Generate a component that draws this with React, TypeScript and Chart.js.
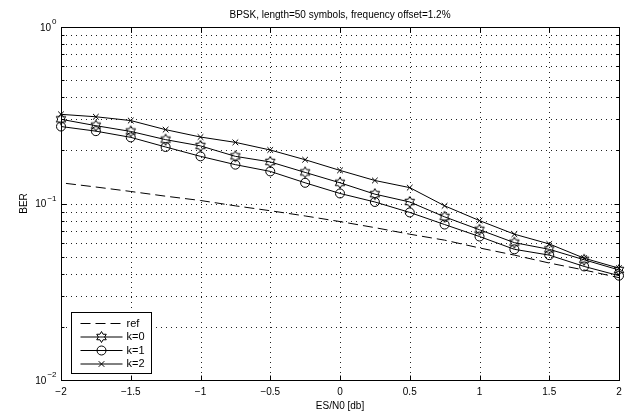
import React, { useEffect, useRef } from "react";
import { Chart, registerables } from "chart.js";

Chart.register(...registerables);

const esN0 = [-2, -1.75, -1.5, -1.25, -1, -0.75, -0.5, -0.25, 0, 0.25, 0.5, 0.75, 1, 1.25, 1.5, 1.75, 2];
const berRef = [0.131, 0.124, 0.117, 0.11, 0.104, 0.097, 0.091, 0.085, 0.079, 0.073, 0.067, 0.062, 0.056, 0.051, 0.046, 0.042, 0.038];
const berK0 = [0.3, 0.276, 0.256, 0.23, 0.212, 0.185, 0.172, 0.15, 0.131, 0.113, 0.102, 0.084, 0.071, 0.06, 0.055, 0.048, 0.042];
const berK1 = [0.273, 0.257, 0.237, 0.209, 0.185, 0.166, 0.152, 0.131, 0.114, 0.102, 0.089, 0.076, 0.065, 0.055, 0.051, 0.044, 0.039];
const berK2 = [0.32, 0.31, 0.295, 0.262, 0.238, 0.222, 0.201, 0.177, 0.154, 0.135, 0.123, 0.097, 0.08, 0.067, 0.059, 0.049, 0.043];

const seriesLabels = ["ref", "k=0", "k=1", "k=2"];
const xTicks = [-2, -1.5, -1, -0.5, 0, 0.5, 1, 1.5, 2];
const xTickLabels = ["\u22122", "\u22121.5", "\u22121", "\u22120.5", "0", "0.5", "1", "1.5", "2"];
const yDecades = [0.01, 0.1, 1];
const yTickExponents = ["\u22122", "\u22121", "0"];
const titleText = "BPSK, length=50 symbols, frequency offset=1.2%";
const xTitle = "ES/N0 [db]";
const yTitle = "BER";

const FONT = "'Liberation Sans', Arial, Helvetica, sans-serif";
const DASH = [10, 5];

function hexPath(ctx: CanvasRenderingContext2D, cx: number, cy: number, R: number) {
  const r = R / Math.sqrt(3);
  ctx.beginPath();
  for (let i = 0; i < 12; i++) {
    const ang = -Math.PI / 2 + (i * Math.PI) / 6;
    const rr = i % 2 === 0 ? R : r;
    const px = cx + rr * Math.cos(ang);
    const py = cy + rr * Math.sin(ang);
    if (i === 0) ctx.moveTo(px, py);
    else ctx.lineTo(px, py);
  }
  ctx.closePath();
}

function makeHexImage(): HTMLCanvasElement {
  const c = document.createElement("canvas");
  c.width = 14;
  c.height = 14;
  const g = c.getContext("2d")!;
  g.strokeStyle = "#000";
  g.lineWidth = 1;
  hexPath(g, 7, 7, 5.5);
  g.stroke();
  return c;
}

const axesPlugin = {
  id: "matlabAxes",
  beforeDatasetsDraw(chart: any) {
    const { ctx, chartArea: a, scales } = chart;
    const x = scales.x;
    const y = scales.y;
    ctx.save();
    ctx.strokeStyle = "#222";
    ctx.lineWidth = 1;
    ctx.setLineDash([1, 4]);
    for (const t of xTicks) {
      const px = Math.round(x.getPixelForValue(t)) + 0.5;
      if (px <= a.left + 2 || px >= a.right - 2) continue;
      ctx.beginPath();
      ctx.moveTo(px, a.top);
      ctx.lineTo(px, a.bottom);
      ctx.stroke();
    }
    for (let i = 0; i < yDecades.length - 1; i++) {
      for (let m = 1; m <= 9; m++) {
        const v = yDecades[i] * m;
        const py = Math.round(y.getPixelForValue(v)) + 0.5;
        if (py <= a.top + 2 || py >= a.bottom - 2) continue;
        ctx.beginPath();
        ctx.moveTo(a.left, py);
        ctx.lineTo(a.right, py);
        ctx.stroke();
      }
    }
    ctx.restore();
  },
  afterDatasetsDraw(chart: any) {
    const { ctx, chartArea: a, scales } = chart;
    const x = scales.x;
    const y = scales.y;
    const L = Math.round(a.left) + 0.5;
    const R = Math.round(a.right) + 0.5;
    const T = Math.round(a.top) + 0.5;
    const B = Math.round(a.bottom) + 0.5;
    ctx.save();
    ctx.setLineDash([]);
    ctx.strokeStyle = "#000";
    ctx.lineWidth = 1;
    const major = 5;
    const minor = 3;
    ctx.beginPath();
    for (const t of xTicks) {
      const px = Math.round(x.getPixelForValue(t)) + 0.5;
      ctx.moveTo(px, B);
      ctx.lineTo(px, B - major);
      ctx.moveTo(px, T);
      ctx.lineTo(px, T + major);
    }
    for (let i = 0; i < yDecades.length; i++) {
      const py = Math.round(y.getPixelForValue(yDecades[i])) + 0.5;
      ctx.moveTo(L, py);
      ctx.lineTo(L + major, py);
      ctx.moveTo(R, py);
      ctx.lineTo(R - major, py);
      if (i < yDecades.length - 1) {
        for (let m = 2; m <= 9; m++) {
          const q = Math.round(y.getPixelForValue(yDecades[i] * m)) + 0.5;
          ctx.moveTo(L, q);
          ctx.lineTo(L + minor, q);
          ctx.moveTo(R, q);
          ctx.lineTo(R - minor, q);
        }
      }
    }
    ctx.stroke();
    ctx.strokeRect(L, T, R - L, B - T);

    ctx.fillStyle = "#000";
    ctx.font = `10px ${FONT}`;
    ctx.textAlign = "center";
    ctx.textBaseline = "middle";
    xTicks.forEach((t, i) => {
      ctx.fillText(xTickLabels[i], x.getPixelForValue(t), B + 12);
    });
    yDecades.forEach((d, i) => {
      const py = y.getPixelForValue(d);
      ctx.font = `8px ${FONT}`;
      const we = ctx.measureText(yTickExponents[i]).width;
      ctx.font = `10px ${FONT}`;
      const wb = ctx.measureText("10").width;
      const right = L - 5;
      ctx.textAlign = "left";
      ctx.textBaseline = "middle";
      ctx.font = `10px ${FONT}`;
      ctx.fillText("10", right - we - wb - 1, py + 1);
      ctx.font = `8px ${FONT}`;
      ctx.fillText(yTickExponents[i], right - we, py - 5);
    });
    ctx.font = `10px ${FONT}`;
    ctx.textAlign = "center";
    ctx.textBaseline = "middle";
    ctx.fillText(xTitle, (a.left + a.right) / 2, B + 26);
    ctx.save();
    ctx.translate(24, (a.top + a.bottom) / 2);
    ctx.rotate(-Math.PI / 2);
    ctx.fillText(yTitle, 0, 0);
    ctx.restore();
    ctx.fillText(titleText, (a.left + a.right) / 2, 15);

    const lx = L + 10;
    const ly = 312.5;
    const lw = 80;
    const lh = 61;
    ctx.fillStyle = "#fff";
    ctx.fillRect(lx, ly, lw, lh);
    ctx.strokeRect(lx, ly, lw, lh);
    const rows = [323, 336.5, 350, 363.5];
    const x0 = lx + 9;
    const x1 = lx + 51;
    const xm = (x0 + x1) / 2;
    ctx.font = `11px ${FONT}`;
    ctx.textAlign = "left";
    ctx.textBaseline = "middle";
    seriesLabels.forEach((lab, i) => {
      const ry = rows[i] + 0.5;
      ctx.strokeStyle = "#000";
      ctx.setLineDash(i === 0 ? DASH : []);
      ctx.beginPath();
      ctx.moveTo(x0, ry);
      ctx.lineTo(x1, ry);
      ctx.stroke();
      ctx.setLineDash([]);
      if (i === 1) {
        hexPath(ctx, xm, ry, 5.5);
        ctx.stroke();
      } else if (i === 2) {
        ctx.beginPath();
        ctx.arc(xm, ry, 4.5, 0, Math.PI * 2);
        ctx.stroke();
      } else if (i === 3) {
        const s = 2.8;
        ctx.beginPath();
        ctx.moveTo(xm - s, ry - s);
        ctx.lineTo(xm + s, ry + s);
        ctx.moveTo(xm - s, ry + s);
        ctx.lineTo(xm + s, ry - s);
        ctx.stroke();
      }
      ctx.fillStyle = "#000";
      ctx.fillText(lab, x1 + 4, ry);
    });
    ctx.restore();
  },
};

export default function App() {
  const canvasRef = useRef<HTMLCanvasElement | null>(null);

  useEffect(() => {
    const canvas = canvasRef.current;
    if (!canvas) return;
    const hex = makeHexImage();
    const toPts = (ys: number[]) => esN0.map((v, i) => ({ x: v, y: ys[i] }));
    const chart = new Chart(canvas, {
      type: "line",
      data: {
        datasets: [
          {
            label: seriesLabels[0],
            data: toPts(berRef),
            borderColor: "#000",
            borderWidth: 1,
            borderDash: DASH,
            borderDashOffset: 10,
            pointRadius: 0,
            tension: 0,
            clip: false as any,
          },
          {
            label: seriesLabels[1],
            data: toPts(berK0),
            borderColor: "#000",
            borderWidth: 1,
            pointStyle: hex as any,
            pointRadius: 5,
            tension: 0,
            clip: false as any,
          },
          {
            label: seriesLabels[2],
            data: toPts(berK1),
            borderColor: "#000",
            borderWidth: 1,
            pointStyle: "circle",
            pointRadius: 4.5,
            pointBorderColor: "#000",
            pointBackgroundColor: "rgba(0,0,0,0)",
            pointBorderWidth: 1,
            tension: 0,
            clip: false as any,
          },
          {
            label: seriesLabels[3],
            data: toPts(berK2),
            borderColor: "#000",
            borderWidth: 1,
            pointStyle: "crossRot",
            pointRadius: 4,
            pointBorderColor: "#000",
            pointBorderWidth: 1,
            tension: 0,
            clip: false as any,
          },
        ],
      },
      options: {
        animation: false,
        responsive: false,
        devicePixelRatio: 1,
        events: [],
        layout: { padding: { left: 61, right: 15, top: 27, bottom: 34 } },
        scales: {
          x: { type: "linear", min: -2, max: 2, display: false },
          y: { type: "logarithmic", min: 0.01, max: 1, display: false },
        },
        plugins: {
          legend: { display: false },
          tooltip: { enabled: false },
          title: { display: false },
        },
      },
      plugins: [axesPlugin],
    });
    return () => chart.destroy();
  }, []);

  return (
    <div style={{ position: "fixed", left: 0, top: 0, width: 634, height: 414, background: "#fff" }}>
      <canvas ref={canvasRef} width={634} height={414} style={{ display: "block", width: 634, height: 414 }} />
    </div>
  );
}
